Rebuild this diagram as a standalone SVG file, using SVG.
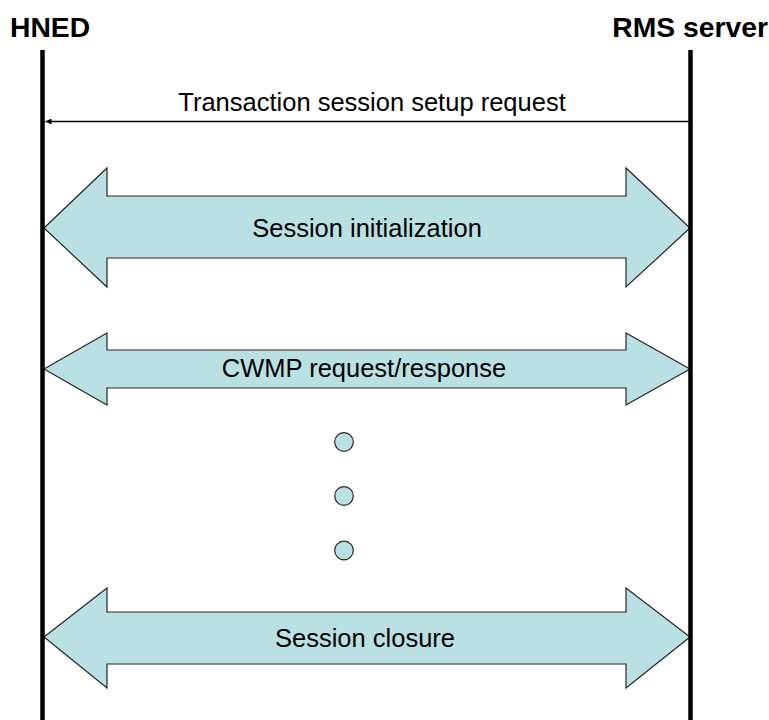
<svg xmlns="http://www.w3.org/2000/svg" width="769" height="720" viewBox="0 0 769 720">
<defs>
<style>
.big{fill:#B9E0E3;stroke:#262626;stroke-width:1.2;stroke-linejoin:miter}
.lbl{font-family:"Liberation Sans",Arial,sans-serif;font-size:25.5px;fill:#000;text-anchor:middle}
.hdr{font-family:"Liberation Sans",Arial,sans-serif;font-size:28.3px;font-weight:bold;fill:#000}
.life{stroke:#000;stroke-width:4.5;fill:none}
.dot{fill:#B9E0E3;stroke:#262626;stroke-width:1.2}
</style>
<marker id="ah" viewBox="0 0 10 10" refX="10" refY="5" markerWidth="8" markerHeight="6" markerUnits="userSpaceOnUse" orient="auto">
<path d="M0,0 L10,5 L0,10 Z" fill="#000"/>
</marker>
</defs>
<rect width="769" height="720" fill="#fff"/>
<g id="hned">
<text class="hdr" x="10" y="37">HNED</text>
</g>
<g id="rms">
<text class="hdr" x="768" y="37" text-anchor="end">RMS server</text>
</g>
<g id="connectors">
<g id="setup">
<line x1="690" y1="121.5" x2="45.5" y2="121.5" stroke="#000" stroke-width="1.3" marker-end="url(#ah)"/>
<text class="lbl" x="372" y="110.5">Transaction session setup request</text>
</g>
<g id="init">
<path class="big" d="M44,228 L107,168 L107,196 L626,196 L626,168 L690,228 L626,287 L626,258 L107,258 L107,287 Z"/>
<text class="lbl" x="367" y="237">Session initialization</text>
</g>
<g id="cwmp">
<path class="big" d="M44,369 L107,333 L107,350 L626,350 L626,333 L690,369 L626,405 L626,388 L107,388 L107,405 Z"/>
<text class="lbl" x="364" y="377">CWMP request/response</text>
</g>
<g id="closure">
<path class="big" d="M44,637 L107,588 L107,612 L626,612 L626,588 L690,637 L626,688 L626,664 L107,664 L107,688 Z"/>
<text class="lbl" x="365" y="646.5">Session closure</text>
</g>
</g>
<g id="dots">
<circle class="dot" cx="344" cy="442" r="9.3"/>
<circle class="dot" cx="344" cy="496" r="9.3"/>
<circle class="dot" cx="344" cy="550.5" r="9.3"/>
</g>
<g id="lifelines">
<line class="life" x1="42.5" y1="50" x2="42.5" y2="720"/>
<line class="life" x1="690.5" y1="50" x2="690.5" y2="720"/>
</g>
</svg>
